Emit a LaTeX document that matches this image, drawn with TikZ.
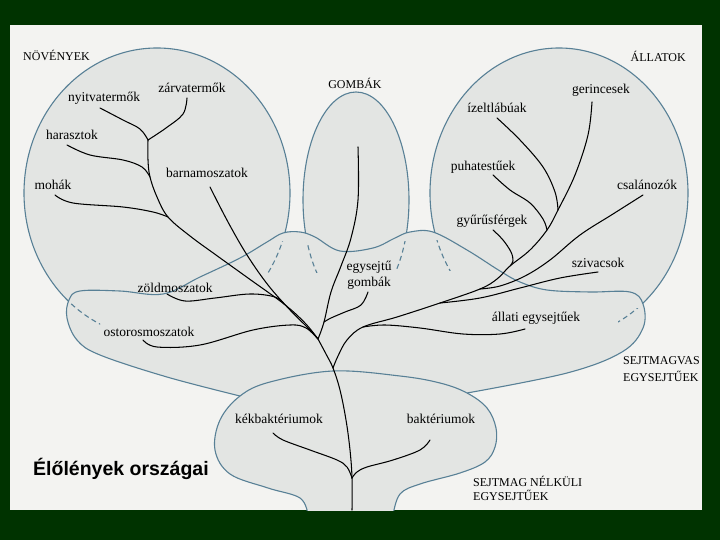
\documentclass[tikz,border=0pt]{standalone}
\usepackage{fontspec}
\setmainfont{Liberation Serif}
\newfontfamily\titlefont{Liberation Sans}
\definecolor{bggreen}{RGB}{0,51,0}
\definecolor{panel}{RGB}{243,243,241}
\definecolor{blobc}{RGB}{227,229,227}
\definecolor{outc}{RGB}{88,128,150}
\begin{document}
\begin{tikzpicture}[x=1pt,y=-1pt,
  outl/.style={draw=outc, line width=1.1pt},
  dsh/.style={draw=outc, line width=1.1pt, dash pattern=on 5pt off 3.5pt},
  br/.style={draw=black, line width=1.05pt, line cap=round, line join=round},
  lab/.style={inner sep=0pt, font=\fontsize{13.5}{15}\selectfont},
  capl/.style={inner sep=0pt, font=\fontsize{12}{14}\selectfont},
]
\useasboundingbox (0,0) rectangle (720,540);
\fill[bggreen] (0,0) rectangle (720,540);
\fill[panel] (10,25) rectangle (702,510);

\begin{scope}
\clip (10,25) rectangle (702,510);
% fills
\fill[blobc] (157,193) ellipse [x radius=133pt, y radius=145pt];
\fill[blobc] (356,200) ellipse [x radius=53pt, y radius=108pt];
\fill[blobc] (559,193) ellipse [x radius=129pt, y radius=145pt];
\fill[blobc] plot[smooth, tension=0.6] coordinates {(240,396) (167,377) (100,355) (77,340) (67,318) (69,300) (80,291) (120,291) (163,294) (200,277) (240,258) (267,242) (283,233) (300,232) (315,237) (340,251) (373,248) (395,238) (410,232) (433,232) (467,250) (500,271) (520,282) (547,290) (590,292) (630,292) (643,304) (643,328) (622,352) (567,373) (467,393)} -- cycle;
\fill[blobc] plot[smooth, tension=0.6] coordinates {(308,515) (300,498) (268,488) (230,474) (215,450) (220,420) (240,396) (270,382) (333,371) (400,376) (440,383) (467,393) (487,408) (496,428) (495,447) (485,462) (460,473) (420,484) (400,494) (393,515)} -- cycle;

% solid outlines of the upper regions
\begin{scope}
\clip (0,0) -- (0,340) -- plot[smooth, tension=0.6] coordinates {(77,340) (67,318) (69,300) (80,291) (120,291) (163,294) (200,277) (240,258) (267,242) (283,233) (300,232) (315,237) (340,251) (373,248) (395,238) (410,232) (433,232) (467,250) (500,271) (520,282) (547,290) (590,292) (630,292) (643,304) (643,328)} -- (720,328) -- (720,0) -- cycle;
\draw[outl] (157,193) ellipse [x radius=133pt, y radius=145pt];
\draw[outl] (356,200) ellipse [x radius=53pt, y radius=108pt];
\draw[outl] (559,193) ellipse [x radius=129pt, y radius=145pt];
\end{scope}

% dashed continuations
\begin{scope}
\clip (60,303) rectangle (100,330);
\draw[dsh] (157,193) ellipse [x radius=133pt, y radius=145pt];
\end{scope}
\begin{scope}
\clip (262,241) rectangle (292,272);
\draw[dsh] (157,193) ellipse [x radius=133pt, y radius=145pt];
\end{scope}
\begin{scope}
\clip (298,242) rectangle (322,272);
\draw[dsh] (356,200) ellipse [x radius=53pt, y radius=108pt];
\end{scope}
\begin{scope}
\clip (390,241) rectangle (414,270);
\draw[dsh] (356,200) ellipse [x radius=53pt, y radius=108pt];
\end{scope}
\begin{scope}
\clip (428,240) rectangle (452,270);
\draw[dsh] (559,193) ellipse [x radius=129pt, y radius=145pt];
\end{scope}
\begin{scope}
\clip (618,308) rectangle (650,323);
\draw[dsh] (559,193) ellipse [x radius=129pt, y radius=145pt];
\end{scope}

% lower blob outlines
\draw[outl] plot[smooth, tension=0.6] coordinates {(240,396) (167,377) (100,355) (77,340) (67,318) (69,300) (80,291) (120,291) (163,294) (200,277) (240,258) (267,242) (283,233) (300,232) (315,237) (340,251) (373,248) (395,238) (410,232) (433,232) (467,250) (500,271) (520,282) (547,290) (590,292) (630,292) (643,304) (643,328) (622,352) (567,373) (467,393)};
\draw[outl] plot[smooth, tension=0.6] coordinates {(308,515) (300,498) (268,488) (230,474) (215,450) (220,420) (240,396) (270,382) (333,371) (400,376) (440,383) (467,393) (487,408) (496,428) (495,447) (485,462) (460,473) (420,484) (400,494) (393,515)};
\end{scope}

% junctions of the tree
\coordinate (jP1) at (148,140);
\coordinate (jP2) at (150,177);
\coordinate (jP3) at (168,217);
\coordinate (jZ) at (284,304);
\coordinate (jT1) at (318,339);
\coordinate (jG) at (324,322);
\coordinate (jT2) at (333,368);
\coordinate (jK) at (352,478);
\coordinate (root) at (352,510);
\coordinate (jA1) at (558,210);
\coordinate (jA2) at (547,230);
\coordinate (jA3) at (510,266);
\coordinate (jA4) at (480,289);
\coordinate (jS) at (440,303);
\coordinate (jE) at (363,327);

% branch tips
\coordinate (tNyit) at (100,108);
\coordinate (tZarv) at (187,98);
\coordinate (tHar) at (67,145);
\coordinate (tMoh) at (55,195);
\coordinate (tBarna) at (210,187);
\coordinate (tZold) at (167,294);
\coordinate (tOst) at (143,340);
\coordinate (tFungi) at (358,147);
\coordinate (tGomb) at (368,292);
\coordinate (tGer) at (592,102);
\coordinate (tIzelt) at (497,118);
\coordinate (tPuha) at (493,175);
\coordinate (tGyuru) at (493,230);
\coordinate (tCsal) at (643,195);
\coordinate (tSziv) at (598,272);
\coordinate (tAll) at (525,329);
\coordinate (tKek) at (273,433);
\coordinate (tBakt) at (430,440);

% tree
\draw[br] plot[smooth, tension=0.6] coordinates {(jP1) (148,160) (jP2) (157,197) (jP3) (190,236) (216,255) (248,278) (jZ) (305,323) (jT1)};
\draw[br] plot[smooth, tension=0.6] coordinates {(tNyit) (123,120) (140,129) (jP1)};
\draw[br] plot[smooth, tension=0.6] coordinates {(tZarv) (183,114) (166,128) (jP1)};
\draw[br] plot[smooth, tension=0.6] coordinates {(tHar) (90,155) (123,160) (142,167) (jP2)};
\draw[br] plot[smooth, tension=0.6] coordinates {(tMoh) (73,203) (123,207) (153,212) (jP3)};
\draw[br] plot[smooth, tension=0.6] coordinates {(tBarna) (228,222) (247,255) (268,285) (290,310) (307,327) (jT1)};
\draw[br] plot[smooth, tension=0.6] coordinates {(tZold) (185,301) (215,298) (250,294) (275,297) (jZ)};
\draw[br] plot[smooth, tension=0.6] coordinates {(tOst) (157,347) (200,345) (253,330) (290,325) (306,328) (jT1)};
\draw[br] plot[smooth, tension=0.6] coordinates {(tFungi) (358,200) (351,238) (341,266) (331,292) (jG) (jT1)};
\draw[br] plot[smooth, tension=0.6] coordinates {(tGomb) (361,305) (345,312) (331,318) (jG)};
\draw[br] plot[smooth, tension=0.6] coordinates {(jT1) (326,354) (jT2) (340,390) (346,420) (350,450) (jK) (root)};
\draw[br] plot[smooth, tension=0.6] coordinates {(tKek) (283,440) (310,450) (337,460) (347,467) (jK)};
\draw[br] plot[smooth, tension=0.6] coordinates {(tBakt) (420,450) (393,460) (367,467) (357,472) (jK)};
\draw[br] plot[smooth, tension=0.6] coordinates {(tGer) (588,135) (575,175) (jA1) (jA2) (530,250) (jA3) (497,279) (jA4) (jS) (397,317) (jE) (347,340) (338,356) (jT2)};
\draw[br] plot[smooth, tension=0.6] coordinates {(tIzelt) (520,140) (543,167) (555,192) (jA1)};
\draw[br] plot[smooth, tension=0.6] coordinates {(tPuha) (510,190) (530,203) (543,219) (jA2)};
\draw[br] plot[smooth, tension=0.6] coordinates {(tGyuru) (503,240) (511,252) (513,261) (jA3)};
\draw[br] plot[smooth, tension=0.6] coordinates {(tCsal) (613,214) (580,235) (550,260) (525,276) (500,286) (jA4)};
\draw[br] plot[smooth, tension=0.6] coordinates {(tSziv) (560,278) (520,288) (480,298) (jS)};
\draw[br] plot[smooth, tension=0.6] coordinates {(tAll) (500,334) (463,334) (420,328) (385,325) (jE)};

% labels
\node[capl, anchor=west] (nov) at (23,55) {NÖVÉNYEK};
\node[capl, anchor=east] (all) at (686,56) {ÁLLATOK};
\node[capl] (gomb) at (355,83) {GOMBÁK};
\node[lab] (zarv) at (192,88) {zárvatermők};
\node[lab] (nyit) at (104,98) {nyitvatermők};
\node[lab] (har) at (72,135) {harasztok};
\node[lab] (moh) at (53,185) {mohák};
\node[lab] (barna) at (207,173) {barnamoszatok};
\node[lab] (zold) at (175,288) {zöldmoszatok};
\node[lab] (ost) at (149,332) {ostorosmoszatok};
\node[lab, align=center, font=\fontsize{13.5}{16}\selectfont] (egyg) at (369,275) {egysejtű\\gombák};
\node[lab] (ger) at (601,90) {gerincesek};
\node[lab] (izelt) at (497,108) {ízeltlábúak};
\node[lab] (puha) at (483,167) {puhatestűek};
\node[lab] (csal) at (647,185) {csalánozók};
\node[lab] (gyuru) at (492,221) {gyűrűsférgek};
\node[lab] (sziv) at (598,263) {szivacsok};
\node[lab] (allegy) at (536,318) {állati egysejtűek};
\node[lab] (kek) at (279,419) {kékbaktériumok};
\node[lab] (bakt) at (441,419) {baktériumok};
\node[capl, anchor=west] (euk1) at (623,361) {SEJTMAGVAS};
\node[capl, anchor=west] (euk2) at (623,376) {EGYSEJTŰEK};
\node[capl, anchor=west] (pro1) at (473,481) {SEJTMAG NÉLKÜLI};
\node[capl, anchor=west] (pro2) at (473,495) {EGYSEJTŰEK};
\node[inner sep=0pt, anchor=base west, font=\titlefont\bfseries\fontsize{19.5}{22}\selectfont] (title) at (33,475) {Élőlények országai};
\end{tikzpicture}
\end{document}
